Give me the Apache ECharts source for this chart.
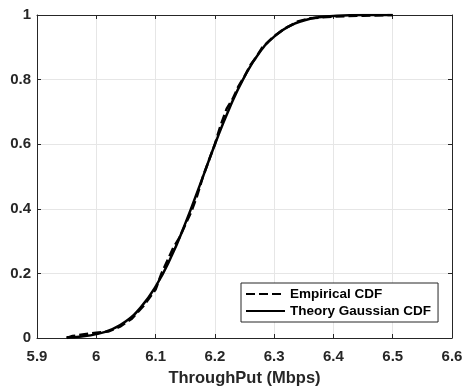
<!DOCTYPE html>
<html><head><meta charset="utf-8">
<script src="https://cdn.jsdelivr.net/npm/echarts@6/dist/echarts.min.js"></script>
<style>html,body{margin:0;padding:0;background:#fff}#c{width:462px;height:389px}</style>
</head><body><div id="c"></div>
<script>
const empX = [5.95,5.96,5.98,6.0,6.02,6.04,6.06,6.08,6.1,6.11,6.12,6.13,6.14,6.15,6.16,6.17,6.18,6.19,6.2,6.21,6.22,6.23,6.24,6.25,6.26,6.27,6.28,6.3,6.32,6.34,6.36,6.4,6.45,6.5];
const empY = [0.0,0.006,0.012,0.016,0.02,0.035,0.06,0.1,0.15,0.2,0.24,0.28,0.31,0.35,0.39,0.44,0.5,0.55,0.6,0.66,0.71,0.74,0.78,0.81,0.845,0.87,0.9,0.935,0.96,0.98,0.99,0.995,0.998,1.0];
const theoX = [5.95,5.975,6.0,6.025,6.05,6.075,6.1,6.125,6.15,6.175,6.2,6.225,6.25,6.275,6.3,6.325,6.35,6.375,6.4,6.45,6.5];
const theoY = [0.002,0.005,0.012,0.026,0.052,0.095,0.159,0.246,0.354,0.475,0.599,0.713,0.809,0.883,0.933,0.965,0.983,0.993,0.997,0.9997,1.0];
const xTicks = [5.9,6,6.1,6.2,6.3,6.4,6.5,6.6];
const yTicks = [0,0.2,0.4,0.6,0.8,1];
const names = ['Empirical CDF','Theory Gaussian CDF'];

const font = '"Liberation Sans", Arial, sans-serif';
const axisCol = '#262626';
const chart = echarts.init(document.getElementById('c'), null, {renderer:'canvas'});
const pair = (xs, ys) => xs.map((x,i)=>[x, ys[i]]);
chart.setOption({
  animation:false,
  backgroundColor:'#fff',
  grid:{left:37,right:10,top:15,bottom:51,show:false,containLabel:false,outerBoundsMode:'none'},
  xAxis:[{
    type:'value',min:xTicks[0],max:xTicks[xTicks.length-1],interval:0.1,
    name:'ThroughPut (Mbps)',nameLocation:'middle',nameGap:32,
    nameTextStyle:{color:axisCol,fontFamily:font,fontWeight:'bold',fontSize:16.5},
    axisLine:{show:true,lineStyle:{color:axisCol,width:1}},
    axisTick:{show:true,inside:true,length:4,lineStyle:{color:axisCol}},
    axisLabel:{color:axisCol,fontFamily:font,fontWeight:'bold',fontSize:15,margin:11,
      formatter:v=>{const t=xTicks.find(k=>Math.abs(k-v)<1e-6);return t===undefined?'':String(t);}},
    splitLine:{show:true,lineStyle:{color:'#e6e6e6',width:1}}
  },{
    type:'value',position:'top',min:xTicks[0],max:xTicks[xTicks.length-1],interval:0.1,
    axisLine:{show:true,onZero:false,lineStyle:{color:axisCol,width:1}},
    axisTick:{show:true,inside:true,length:4,lineStyle:{color:axisCol}},
    axisLabel:{show:false},splitLine:{show:false}
  }],
  yAxis:[{
    type:'value',min:0,max:1,interval:0.2,
    axisLine:{show:true,lineStyle:{color:axisCol,width:1}},
    axisTick:{show:true,inside:true,length:4,lineStyle:{color:axisCol}},
    axisLabel:{color:axisCol,fontFamily:font,fontWeight:'bold',fontSize:15,margin:6,
      formatter:v=>{const t=yTicks.find(k=>Math.abs(k-v)<1e-6);return t===undefined?'':String(t);}},
    splitLine:{show:true,lineStyle:{color:'#e6e6e6',width:1}}
  },{
    type:'value',position:'right',min:0,max:1,interval:0.2,
    axisLine:{show:true,onZero:false,lineStyle:{color:axisCol,width:1}},
    axisTick:{show:true,inside:true,length:4,lineStyle:{color:axisCol}},
    axisLabel:{show:false},splitLine:{show:false}
  }],
  legend:{
    left:241,top:283,orient:'vertical',
    backgroundColor:'#fff',borderColor:'#262626',borderWidth:1,borderRadius:0,
    padding:[4,7,4,4],itemGap:3,itemWidth:39,itemHeight:14,
    itemStyle:{opacity:0},
    textStyle:{color:'#000',fontFamily:font,fontWeight:'bold',fontSize:13.5},
    data:names
  },
  series:[{
    name:names[0],type:'line',data:pair(empX,empY),symbol:'none',smooth:false,
    lineStyle:{color:'#000',width:2.5,type:[9,4]},itemStyle:{color:'#000'},z:3
  },{
    name:names[1],type:'line',data:pair(theoX,theoY),symbol:'none',smooth:true,
    lineStyle:{color:'#000',width:2.5,type:'solid'},itemStyle:{color:'#000'},z:2
  }]
});
</script></body></html>
